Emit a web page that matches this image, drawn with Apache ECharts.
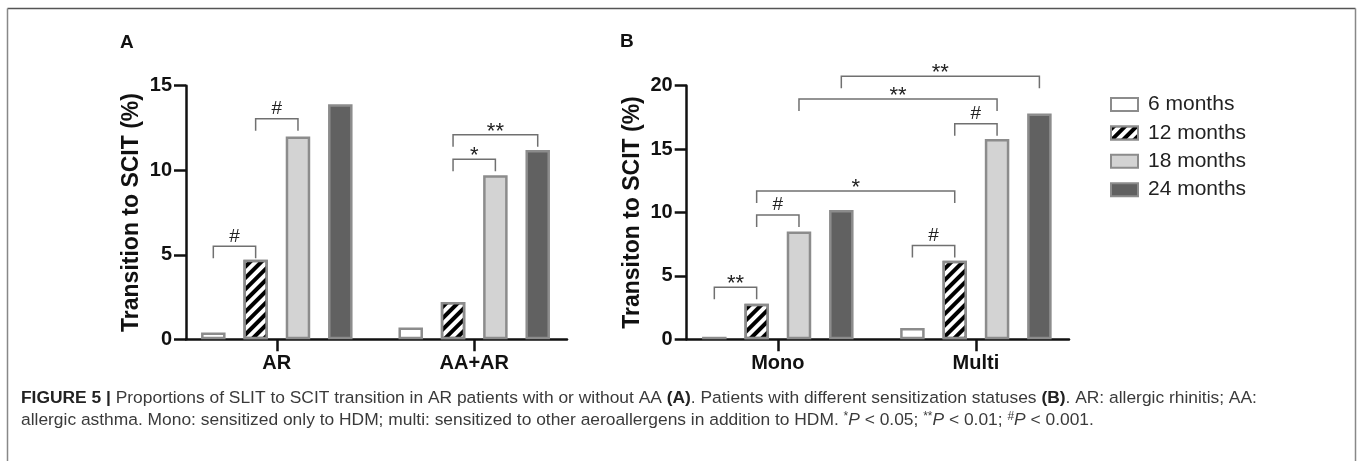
<!DOCTYPE html>
<html>
<head>
    <meta charset="utf-8">
    <title>Figure 5</title>
    <script src="https://cdn.jsdelivr.net/npm/echarts@6.0.0/dist/echarts.min.js"></script>
    <style>
        body { margin: 0; background: #fff; }
        #main { width: 1357px; height: 461px; }
    </style>
</head>
<body>
<div id="main"></div>
<script>
    // categories and series
    var catsA = ['AR', 'AA+AR'];
    var catsB = ['Mono', 'Multi'];
    var periods = ['6 months', '12 months', '18 months', '24 months'];

    // panel A values, [AR, AA+AR]
    var a6 = [0.4, 0.7];
    var a12 = [4.7, 2.2];
    var a18 = [12.0, 9.7];
    var a24 = [13.9, 11.2];

    // panel B values, [Mono, Multi]
    var b6 = [0.2, 0.9];
    var b12 = [2.8, 6.2];
    var b18 = [8.5, 15.8];
    var b24 = [10.2, 17.8];

    var ticksA = [0, 5, 10, 15];
    var ticksB = [0, 5, 10, 15, 20];

    // significance brackets: [fromCat, fromPeriod, toCat, toPeriod, height]
    var bracketsA = [[0, 0, 0, 1, 5.5], [0, 1, 0, 2, 13.05], [1, 1, 1, 2, 10.65], [1, 1, 1, 3, 12.1]];
    var marksA = ['#', '#', '*', '**'];
    var bracketsB = [[0, 0, 0, 1, 4.1], [0, 1, 0, 2, 9.8], [0, 1, 1, 1, 11.7], [1, 0, 1, 1, 7.4],
        [1, 1, 1, 2, 17.0], [0, 2, 1, 2, 18.95], [0, 3, 1, 3, 20.75]];
    var marksB = ['**', '#', '*', '#', '#', '**', '**'];

    var chart = echarts.init(document.getElementById('main'));

    var barW = 24.5;
    var barStep = 42.33;
    var styles = [
        {color: '#ffffff', borderColor: '#8c8c8c', borderWidth: 2.5},
        {color: '#ffffff', borderColor: '#8c8c8c', borderWidth: 2.5,
            decal: {symbol: 'rect', symbolSize: 1, dashArrayX: [1, 0], dashArrayY: [4, 4],
                rotation: -Math.PI / 4, color: '#000000'}},
        {color: '#d3d3d3', borderColor: '#8c8c8c', borderWidth: 2.5},
        {color: '#616161', borderColor: '#8c8c8c', borderWidth: 2.5}
    ];

    function bars(name, vals, idx, style) {
        return {
            name: name, type: 'bar', xAxisIndex: idx, yAxisIndex: idx,
            data: vals.map(function (v, i) { return [i, v]; }),
            barWidth: barW, barGap: ((barStep - barW) / barW * 100) + '%',
            itemStyle: style, emphasis: {disabled: true}
        };
    }

    function brackets(list, marks, idx) {
        return {
            type: 'custom', xAxisIndex: idx, yAxisIndex: idx, clip: false, silent: true,
            encode: {x: 0, y: 4},
            data: list,
            renderItem: function (params, api) {
                var pF = api.coord([api.value(0), api.value(4)]);
                var pT = api.coord([api.value(2), api.value(4)]);
                var x1 = pF[0] + (api.value(1) - 1.5) * barStep;
                var x2 = pT[0] + (api.value(3) - 1.5) * barStep;
                var y = pF[1];
                var mark = marks[params.dataIndex];
                var star = mark.charAt(0) === '*';
                return {
                    type: 'group',
                    children: [{
                        type: 'polyline',
                        shape: {points: [[x1, y + 12], [x1, y], [x2, y], [x2, y + 12]]},
                        style: {stroke: '#707070', lineWidth: 1.5, fill: null}
                    }, {
                        type: 'text',
                        x: (x1 + x2) / 2, y: star ? y - 3 : y - 10,
                        style: {text: mark, fill: '#222', font: (star ? '22px' : '19px') + ' "Liberation Sans", Arial',
                            align: 'center', verticalAlign: 'middle'}
                    }]
                };
            }
        };
    }

    function xAxis(idx, cats) {
        return {
            type: 'value', gridIndex: idx, min: -0.46, max: 1.47,
            axisLine: {onZero: false, lineStyle: {color: '#111', width: 2.5}},
            axisTick: {customValues: [0, 1], length: 12, lineStyle: {color: '#111', width: 2.5}},
            axisLabel: {customValues: [0, 1], margin: 14, color: '#111', fontSize: 20, fontWeight: 'bold',
                fontFamily: '"Liberation Sans", Arial',
                formatter: function (v) { return cats[Math.round(v)]; }},
            splitLine: {show: false}
        };
    }

    function yAxis(idx, ticks, name) {
        return {
            type: 'value', gridIndex: idx, min: 0, max: ticks[ticks.length - 1], interval: ticks[1] - ticks[0],
            name: name, nameLocation: 'middle', nameGap: 43,
            nameTextStyle: {color: '#111', fontSize: 23, fontWeight: 'bold', fontFamily: '"Liberation Sans", Arial'},
            axisLine: {show: true, onZero: false, lineStyle: {color: '#111', width: 2.5}},
            axisTick: {show: true, length: 12, lineStyle: {color: '#111', width: 2.5}},
            axisLabel: {margin: 14, color: '#111', fontSize: 20, fontWeight: 'bold', fontFamily: '"Liberation Sans", Arial'},
            splitLine: {show: false}
        };
    }

    var capFont = '"Liberation Sans", Arial';

    var option = {
        animation: false,
        textStyle: {fontFamily: '"Liberation Sans", Arial'},
        grid: [
            {left: 186, top: 85.7, width: 381, height: 253.6},
            {left: 686.7, top: 85.7, width: 382.3, height: 253.6}
        ],
        xAxis: [xAxis(0, catsA), xAxis(1, catsB)],
        yAxis: [yAxis(0, ticksA, 'Transition to SCIT (%)'), yAxis(1, ticksB, 'Transiton to SCIT (%)')],
        legend: {
            data: periods, orient: 'vertical', left: 1105, top: 89,
            icon: 'rect',
            itemWidth: 27, itemHeight: 13, itemGap: 7.4,
            selectedMode: false,
            textStyle: {fontSize: 21, color: '#222', lineHeight: 21, padding: [0, 0, 0, 5]}
        },
        series: [
            bars(periods[0], a6, 0, styles[0]),
            bars(periods[1], a12, 0, styles[1]),
            bars(periods[2], a18, 0, styles[2]),
            bars(periods[3], a24, 0, styles[3]),
            bars(periods[0], b6, 1, styles[0]),
            bars(periods[1], b12, 1, styles[1]),
            bars(periods[2], b18, 1, styles[2]),
            bars(periods[3], b24, 1, styles[3]),
            brackets(bracketsA, marksA, 0),
            brackets(bracketsB, marksB, 1)
        ],
        graphic: [
            {type: 'line', shape: {x1: 7.5, y1: 8.5, x2: 1355.5, y2: 8.5}, style: {stroke: '#555', lineWidth: 1.5}},
            {type: 'line', shape: {x1: 7.5, y1: 8.5, x2: 7.5, y2: 461}, style: {stroke: '#888', lineWidth: 1.5}},
            {type: 'line', shape: {x1: 1355.5, y1: 8.5, x2: 1355.5, y2: 461}, style: {stroke: '#888', lineWidth: 1.5}},
            {type: 'text', left: 120, top: 33, style: {text: 'A', font: 'bold 19px ' + capFont, fill: '#111'}},
            {type: 'text', left: 620, top: 32, style: {text: 'B', font: 'bold 19px ' + capFont, fill: '#111'}},
            {
                type: 'text', left: 21, top: 390,
                style: {
                    text: '{b|FIGURE 5 |} Proportions of SLIT to SCIT transition in AR patients with or without AA {b|(A)}. ' +
                        'Patients with different sensitization statuses {b|(B)}. AR: allergic rhinitis; AA:',
                    font: '17.4px ' + capFont, fill: '#3a3a3a',
                    rich: {b: {font: 'bold 17.4px ' + capFont, fill: '#222'}}
                }
            },
            {
                type: 'text', left: 21, top: 411,
                style: {
                    text: 'allergic asthma. Mono: sensitized only to HDM; multi: sensitized to other aeroallergens in addition to HDM. ' +
                        '{s|*}{i|P} < 0.05; {s|**}{i|P} < 0.01; {s|#}{i|P} < 0.001.',
                    font: '17.4px ' + capFont, fill: '#3a3a3a',
                    rich: {
                        i: {font: 'italic 17.4px ' + capFont, fill: '#3a3a3a'},
                        s: {font: '12px ' + capFont, fill: '#3a3a3a', verticalAlign: 'top', padding: [0, 0, 7, 0]}
                    }
                }
            }
        ]
    };

    chart.setOption(option);
</script>
</body>
</html>
